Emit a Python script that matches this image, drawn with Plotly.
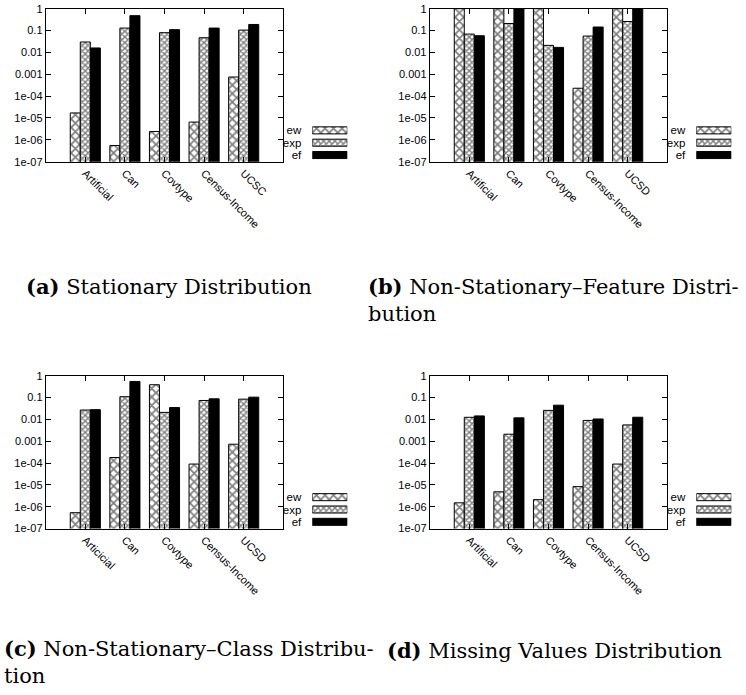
import plotly.graph_objects as go

W, H = 746, 695

series_names = ["ew", "exp", "ef"]

cats_a = ["Artificial", "Can", "Covtype", "Census-Income", "UCSC"]
cats_b = ["Artificial", "Can", "Covtype", "Census-Income", "UCSD"]
cats_c = ["Articicial", "Can", "Covtype", "Census-Income", "UCSD"]
cats_d = ["Artificial", "Can", "Covtype", "Census-Income", "UCSD"]

a_ew = [1.7e-5, 5.5e-7, 2.4e-6, 6.5e-6, 7.5e-4]
a_exp = [0.030, 0.13, 0.080, 0.047, 0.105]
a_ef = [0.016, 0.48, 0.11, 0.13, 0.19]

b_ew = [1.0, 1.0, 1.0, 2.3e-4, 1.0]
b_exp = [0.069, 0.21, 0.021, 0.056, 0.26]
b_ef = [0.058, 1.0, 0.017, 0.145, 1.0]

c_ew = [5.3e-7, 1.8e-4, 0.39, 9.0e-5, 7.3e-4]
c_exp = [0.027, 0.11, 0.021, 0.074, 0.085]
c_ef = [0.028, 0.55, 0.035, 0.088, 0.105]

d_ew = [1.5e-6, 4.8e-6, 2.1e-6, 8.3e-6, 9.0e-5]
d_exp = [0.0125, 0.0021, 0.026, 0.009, 0.0056]
d_ef = [0.0145, 0.0118, 0.045, 0.0105, 0.0126]

ytick_vals = [1e-7, 1e-6, 1e-5, 1e-4, 1e-3, 1e-2, 1e-1, 1]
ytick_text = ["1e-07", "1e-06", "1e-05", "1e-04", "0.001", "0.01", "0.1", "1"]

captions = [
    "<b>(a)</b> Stationary Distribution",
    "<b>(b)</b> Non-Stationary–Feature Distri-<br>bution",
    "<b>(c)</b> Non-Stationary–Class Distribu-<br>tion",
    "<b>(d)</b> Missing Values Distribution",
]

styles = {
    "ew": dict(color="white", pattern=dict(shape="x", fgcolor="black", bgcolor="white", size=6, solidity=0.5)),
    "exp": dict(color="white", pattern=dict(shape="x", fgcolor="black", bgcolor="white", size=4, solidity=0.6)),
    "ef": dict(color="black"),
}

panels = [
    (cats_a, [a_ew, a_exp, a_ef]),
    (cats_b, [b_ew, b_exp, b_ef]),
    (cats_c, [c_ew, c_exp, c_ef]),
    (cats_d, [d_ew, d_exp, d_ef]),
]

# pixel geometry of each panel in the screenshot: (left, right, top, bottom)
boxes = [
    (45.7, 283.3, 8.7, 161.7),
    (429.7, 667.3, 8.7, 161.7),
    (45.7, 283.3, 375.8, 528.5),
    (429.7, 667.3, 375.8, 528.5),
]

def px_x(v):
    return v / W

def px_y(v):
    return 1 - v / H

fig = go.Figure()
layout = dict(
    width=W, height=H,
    margin=dict(l=0, r=0, t=0, b=0),
    paper_bgcolor="white", plot_bgcolor="white",
    barmode="group", bargap=0.24, bargroupgap=0,
    showlegend=False,
    font=dict(family="Liberation Sans, Arial, sans-serif", size=11, color="black"),
)

for i, ((cats, vals), (l, r, t, b)) in enumerate(zip(panels, boxes)):
    n = i + 1
    xa = "x" if n == 1 else f"x{n}"
    ya = "y" if n == 1 else f"y{n}"
    for name, v in zip(series_names, vals):
        st = styles[name]
        fig.add_trace(go.Bar(
            x=cats, y=v, name=name, xaxis=xa, yaxis=ya,
            marker=dict(color=st["color"], pattern=st.get("pattern"),
                        line=dict(color="black", width=1)),
        ))
    layout[f"xaxis{'' if n == 1 else n}"] = dict(
        domain=[px_x(l), px_x(r)], anchor=ya, type="category",
        range=[-1, 5], showline=True, linecolor="black", linewidth=1,
        mirror="ticks", ticks="inside", ticklen=5, tickcolor="black",
        tickangle=45, showgrid=False, zeroline=False, automargin=False,
        tickfont=dict(size=11),
    )
    layout[f"yaxis{'' if n == 1 else n}"] = dict(
        domain=[px_y(b), px_y(t)], anchor=xa, type="log",
        range=[-7, 0], showline=True, linecolor="black", linewidth=1,
        mirror="ticks", ticks="inside", ticklen=5, tickcolor="black",
        tickvals=ytick_vals, ticktext=ytick_text, showgrid=False,
        zeroline=False, automargin=False, tickfont=dict(size=11),
        ticklabeloverflow="allow",
    )

    # legend drawn as a tiny bar subplot at the right of each panel
    m = n + 4
    lxa, lya = f"x{m}", f"y{m}"
    for name in series_names:
        st = styles[name]
        fig.add_trace(go.Bar(
            y=[name], x=[1], orientation="h", xaxis=lxa, yaxis=lya,
            width=0.57, offsetgroup="leg", alignmentgroup="leg",
            marker=dict(color=st["color"], pattern=st.get("pattern"),
                        line=dict(color="black", width=1)),
            hoverinfo="skip",
        ))
    layout[f"xaxis{m}"] = dict(
        domain=[px_x(r + 29), px_x(r + 64)], anchor=lya, range=[0, 1],
        visible=False, fixedrange=True, automargin=False,
    )
    layout[f"yaxis{m}"] = dict(
        domain=[px_y(b - 0.5), px_y(b - 37.5)], anchor=lxa, type="category",
        categoryorder="array", categoryarray=series_names,
        tickmode="array", tickvals=series_names, ticktext=series_names,
        autorange="reversed", showline=False, showgrid=False, zeroline=False,
        ticks="", ticklabelstandoff=10, tickfont=dict(size=11.5), automargin=False,
    )

cap_font = dict(family="DejaVu Serif, serif", size=21, color="black")
annotations = [
    dict(text=captions[0], x=px_x(169), y=px_y(287), xanchor="center", yanchor="middle"),
    dict(text=captions[1], x=px_x(741), y=px_y(300.5), xanchor="right", yanchor="middle", align="left"),
    dict(text=captions[2], x=px_x(2), y=px_y(662), xanchor="left", yanchor="middle", align="left"),
    dict(text=captions[3], x=px_x(554), y=px_y(650), xanchor="center", yanchor="middle"),
]
for a in annotations:
    a.update(xref="paper", yref="paper", showarrow=False, font=cap_font)
layout["annotations"] = annotations

fig.update_layout(**layout)
fig.write_html(
    "out.html",
    config={"displayModeBar": False},
    post_script="document.body.style.margin='0';document.body.style.overflow='hidden';",
)
